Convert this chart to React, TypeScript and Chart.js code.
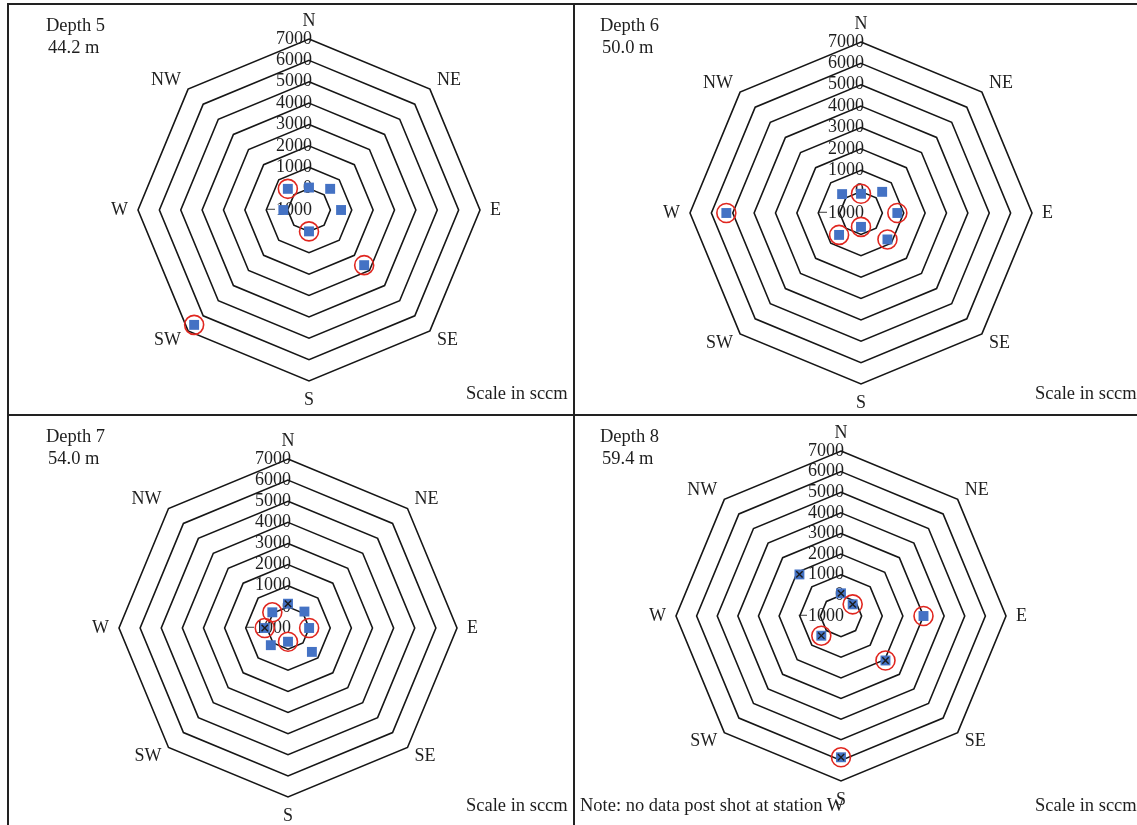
import React, { useEffect, useRef } from "react";
import { Chart, registerables } from "chart.js";

Chart.register(...registerables);

// Compass stations around each borehole
const stations = ["N", "NE", "E", "SE", "S", "SW", "W", "NW"];

// Radial scale (sccm)
const scaleMin = -1000;
const scaleMax = 7000;
const scaleStep = 1000;

// Depth 5 — 44.2 m
const depth5Flow = [50, 400, 500, 2650, 0, 6600, 200, 400];
const depth5Circled = [false, false, false, true, true, true, false, true];
const depth5Crossed = [false, false, false, false, false, false, false, false];

// Depth 6 — 50.0 m
const depth6Flow = [-100, 400, 700, 750, -350, 450, 5300, 250];
const depth6Circled = [true, false, true, true, true, true, true, false];
const depth6Crossed = [false, false, false, false, false, false, false, false];

// Depth 7 — 54.0 m
const depth7Flow = [150, 100, 0, 600, -350, 150, 100, 50];
const depth7Circled = [false, false, true, false, true, false, true, true];
const depth7Crossed = [true, false, false, false, false, false, true, false];

// Depth 8 — 59.4 m (station W has no reading)
const depth8Flow = [100, -200, 3000, 2050, 5850, 350, null, 1850];
const depth8Circled = [false, true, true, true, true, true, false, false];
const depth8Crossed = [true, true, false, true, true, true, false, true];

const depthTitles = ["Depth 5", "Depth 6", "Depth 7", "Depth 8"];
const depthElevations = ["44.2 m", "50.0 m", "54.0 m", "59.4 m"];
const scaleCaption = "Scale in sccm";
const noteText = "Note: no data post shot at station W";

type Series = {
  flow: (number | null)[];
  circled: boolean[];
  crossed: boolean[];
};

const series: Series[] = [
  { flow: depth5Flow, circled: depth5Circled, crossed: depth5Crossed },
  { flow: depth6Flow, circled: depth6Circled, crossed: depth6Crossed },
  { flow: depth7Flow, circled: depth7Circled, crossed: depth7Crossed },
  { flow: depth8Flow, circled: depth8Circled, crossed: depth8Crossed },
];

// Panel geometry: canvas box on the page, polygon centre inside the canvas, outer radius
const panelBoxes = [
  { left: 9, top: 5, width: 564, height: 409, cx: 300, cy: 205, radius: 171 },
  { left: 575, top: 5, width: 562, height: 409, cx: 286, cy: 208, radius: 171 },
  { left: 9, top: 416, width: 564, height: 409, cx: 279, cy: 212, radius: 169 },
  { left: 575, top: 416, width: 562, height: 409, cx: 266, cy: 200, radius: 165 },
];

const textColor = "#1e1e1e";
const serif = '"Liberation Serif", "Times New Roman", serif';
const labelGap = 10;

const formatTick = (v: number) => (v < 0 ? "\u2212" + Math.abs(v) : String(v));

// Tick values and compass labels drawn from the radial scale's own geometry
const radarText = {
  id: "radarText",
  beforeDatasetsDraw(chart: any) {
    const scale = chart.scales.r;
    const ctx = chart.ctx as CanvasRenderingContext2D;
    ctx.save();
    ctx.fillStyle = textColor;
    ctx.font = `18px ${serif}`;
    ctx.textBaseline = "middle";
    ctx.textAlign = "right";
    scale.ticks.forEach((t: any) => {
      const d = scale.getDistanceFromCenterForValue(t.value);
      ctx.fillText(formatTick(t.value), scale.xCenter + 3, scale.yCenter - d);
    });
    const half = 8;
    (chart.data.labels as string[]).forEach((lab, i) => {
      const p = scale.getPointPosition(i, scale.drawingArea + labelGap);
      const dx = p.x - scale.xCenter;
      const dy = p.y - scale.yCenter;
      let y = p.y;
      if (Math.abs(dx) < 1) {
        ctx.textAlign = "center";
        y += dy < 0 ? -half : half + 1;
      } else {
        ctx.textAlign = dx > 0 ? "left" : "right";
        if (Math.abs(dy) > 1) y += dy < 0 ? -2 : 2;
      }
      ctx.fillText(lab, p.x, y);
    });
    ctx.restore();
  },
};

function RadarPanel({ index }: { index: number }) {
  const ref = useRef<HTMLCanvasElement>(null);
  const box = panelBoxes[index];
  const s = series[index];

  useEffect(() => {
    const hidden = { showLine: false, fill: false, borderWidth: 0, borderColor: "rgba(0,0,0,0)", backgroundColor: "rgba(0,0,0,0)" };
    const chart = new Chart(ref.current as HTMLCanvasElement, {
      type: "radar",
      data: {
        labels: stations,
        datasets: [
          {
            label: "crossed",
            data: s.flow.map((v, i) => (s.crossed[i] ? v : null)),
            pointStyle: "crossRot",
            pointRadius: 4.5,
            pointBorderColor: "#1b1b1b",
            pointBorderWidth: 1.4,
            pointBackgroundColor: "rgba(0,0,0,0)",
            ...hidden,
          },
          {
            label: "circled",
            data: s.flow.map((v, i) => (s.circled[i] ? v : null)),
            pointStyle: "circle",
            pointRadius: 9.5,
            pointBorderColor: "#e0261f",
            pointBorderWidth: 1.6,
            pointBackgroundColor: "rgba(0,0,0,0)",
            ...hidden,
          },
          {
            label: "flow",
            data: s.flow,
            pointStyle: "rect",
            pointRadius: 7,
            pointBorderWidth: 0,
            pointBorderColor: "#4472c4",
            pointBackgroundColor: "#4472c4",
            ...hidden,
          },
        ] as any,
      },
      options: {
        responsive: false,
        animation: false,
        events: [],
        layout: { padding: 0 },
        plugins: { legend: { display: false }, tooltip: { enabled: false } },
        scales: {
          r: {
            min: scaleMin,
            max: scaleMax,
            ticks: { stepSize: scaleStep, display: false },
            grid: { color: "#161616", lineWidth: 1.6 },
            angleLines: { display: false },
            pointLabels: { display: false },
            afterFit: (scale: any) => {
              scale.xCenter = box.cx;
              scale.yCenter = box.cy;
              scale.drawingArea = box.radius;
            },
          } as any,
        },
      },
      plugins: [radarText],
    });
    return () => chart.destroy();
  }, [index]);

  const right = index % 2 === 1;
  const bottom = index >= 2;
  const titleLeft = right ? 600 : 46;
  const titleTop = bottom ? 425 : 14;
  const captionLeft = right ? 1035 : 466;
  const captionTop = bottom ? 794 : 382;

  return (
    <>
      <canvas
        ref={ref}
        width={box.width}
        height={box.height}
        style={{ position: "absolute", left: box.left, top: box.top, width: box.width, height: box.height }}
      />
      <div style={{ position: "absolute", left: titleLeft, top: titleTop, lineHeight: "22px", whiteSpace: "nowrap" }}>
        <div>{depthTitles[index]}</div>
        <div style={{ paddingLeft: 2 }}>{depthElevations[index]}</div>
      </div>
      <div style={{ position: "absolute", left: captionLeft, top: captionTop, lineHeight: "22px", whiteSpace: "nowrap" }}>
        {scaleCaption}
      </div>
    </>
  );
}

const rule = "#222";

export default function App() {
  return (
    <div
      style={{
        position: "absolute",
        left: 0,
        top: 0,
        width: 1137,
        height: 825,
        overflow: "hidden",
        background: "#fff",
        fontFamily: serif,
        fontSize: 18.5,
        color: textColor,
      }}
    >
      <div style={{ position: "absolute", left: 7, top: 3, width: 1130, height: 2, background: rule }} />
      <div style={{ position: "absolute", left: 7, top: 414, width: 1130, height: 2, background: rule }} />
      <div style={{ position: "absolute", left: 7, top: 3, width: 2, height: 822, background: rule }} />
      <div style={{ position: "absolute", left: 573, top: 3, width: 2, height: 822, background: rule }} />
      {[0, 1, 2, 3].map((i) => (
        <RadarPanel key={i} index={i} />
      ))}
      <div style={{ position: "absolute", left: 580, top: 794, lineHeight: "22px", whiteSpace: "nowrap" }}>{noteText}</div>
    </div>
  );
}
